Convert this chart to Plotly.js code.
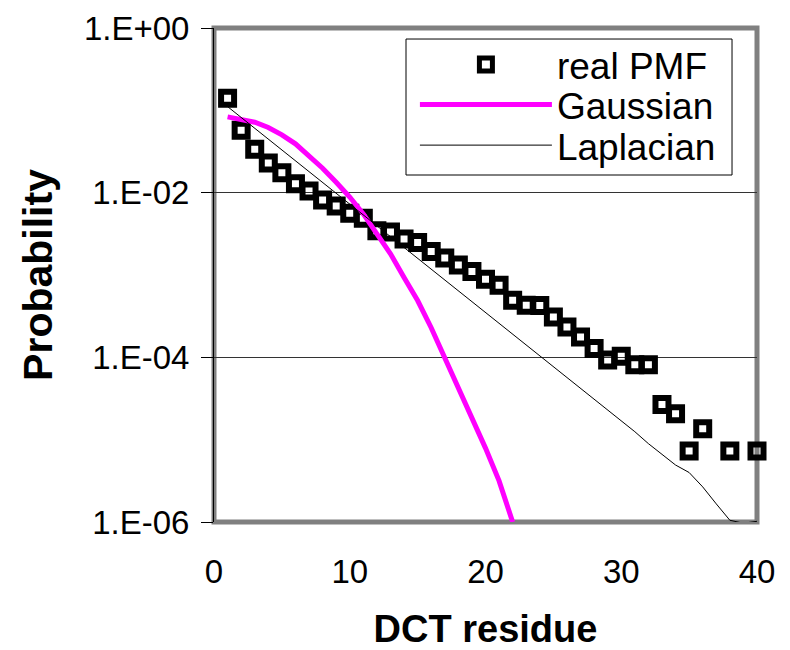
<!DOCTYPE html>
<html>
<head>
<meta charset="utf-8">
<script src="https://cdn.plot.ly/plotly-3.0.1.min.js"></script>
<style>html,body{margin:0;padding:0;background:#fff;}#chart{width:790px;height:650px;}</style>
</head>
<body>
<div id="chart"></div>
<script>
// DCT residue values
var pmfX = [1,2,3,4,5,6,7,8,9,10,11,12,13,14,15,16,17,18,19,20,21,22,23,24,25,26,27,28,29,30,31,32,33,34,35,36,38,40];
var pmfY = [0.140,0.0571,0.0337,0.0230,0.0174,0.0128,0.0105,0.00814,0.00689,0.00562,0.00489,0.00344,0.00334,0.00273,0.00248,0.00193,0.00161,0.00132,0.00110,0.00089,0.00075,0.000495,0.00043,0.000427,0.000308,0.000233,0.000177,0.000128,0.000093,0.000103,0.000081,0.000081,0.0000267,0.0000206,0.0000073,0.0000136,0.0000073,0.0000073];

var gaussX = [1,2,3,4,5,6,7,8,9,10,11,12,13,14,15,16,17,18,19,20,21,22];
var gaussY = [0.0832,0.0785,0.0718,0.0619,0.0504,0.0392,0.0284,0.0198,0.0134,0.00885,0.00552,0.00325,0.00181,0.000933,0.00049,0.000229,0.0001,0.0000447,0.000019,0.0000079,0.00000316,0.00000100];

var lapX = [1,2,3,4,5,6,7,8,9,10,11,12,13,14,15,16,17,18,19,20,21,22,23,24,25,26,27,28,29,30,31,32,33,34,35,36,37,38,39,40];
var lapY = [0.111,0.0820,0.0607,0.0448,0.0331,0.0244,0.0180,0.0133,0.00984,0.00727,0.00537,0.00397,0.00293,0.00216,0.00160,0.00118,0.000871,0.000644,0.000475,0.000352,0.000259,0.000191,0.000142,0.000104,0.000077,0.000057,0.000042,0.000031,0.000023,0.0000169,0.0000125,0.00000895,0.00000668,0.00000492,0.00000399,0.00000267,0.00000166,0.00000105,0.000000966,0.00000102];

var seriesNames = ['real PMF','Gaussian','Laplacian'];
var yTickVals = [1,0.01,0.0001,0.000001];
var yTickText = ['1.E+00','1.E-02','1.E-04','1.E-06'];
var xTickVals = [0,10,20,30,40];

var FONT = 'Liberation Sans, Arial, sans-serif';

var traces = [
  {x: pmfX, y: pmfY, name: seriesNames[0], type: 'scatter', mode: 'markers', cliponaxis: false, legend: 'legend',
   marker: {symbol: 'square-open', size: 13, color: '#000000', line: {color: '#000000', width: 6}}},
  {x: gaussX, y: gaussY, name: seriesNames[1], type: 'scatter', mode: 'lines', legend: 'legend2',
   line: {color: '#ff00ff', width: 5}},
  {x: lapX, y: lapY, name: seriesNames[2], type: 'scatter', mode: 'lines', legend: 'legend3',
   line: {color: '#000000', width: 1}}
];

function legendAt(yFrac) {
  return {
    x: 0.370, y: yFrac, xanchor: 'left', yanchor: 'middle',
    bgcolor: 'rgba(0,0,0,0)', borderwidth: 0,
    font: {family: FONT, size: 37, color: '#000000'},
    itemwidth: 132
  };
}

var layout = {
  width: 790, height: 650,
  margin: {l: 214, r: 33, t: 28, b: 128},
  paper_bgcolor: '#ffffff', plot_bgcolor: '#ffffff',
  font: {family: FONT, color: '#000000', size: 32},
  showlegend: true,
  legend: legendAt(0.925),
  legend2: legendAt(0.844),
  legend3: legendAt(0.762),
  xaxis: {
    range: [0, 40], tickvals: xTickVals, ticktext: xTickVals.map(String),
    showgrid: false, zeroline: false, showline: false, ticks: '',
    ticklabelstandoff: 27,
    tickfont: {family: FONT, size: 33},
    title: {text: 'DCT residue', font: {family: FONT, size: 38, weight: 'bold'}, standoff: 29}
  },
  yaxis: {
    type: 'log', range: [-6, 0], tickvals: yTickVals, ticktext: yTickText,
    showgrid: true, gridcolor: '#333333', gridwidth: 1,
    zeroline: false, showline: true, linecolor: '#000000', linewidth: 1,
    ticks: 'outside', ticklen: 12, tickcolor: '#000000', tickwidth: 1,
    ticklabelstandoff: 5,
    tickfont: {family: FONT, size: 33},
    title: {text: 'Probability', font: {family: FONT, size: 41, weight: 'bold'}, standoff: 18}
  },
  shapes: [
    {type: 'rect', xref: 'paper', yref: 'paper', x0: 0, x1: 1, y0: 0, y1: 1,
     line: {color: '#808080', width: 5}, layer: 'below'},
    {type: 'rect', xref: 'paper', yref: 'paper', x0: 0.3536, x1: 0.954, y0: 0.7024, y1: 0.9777,
     line: {color: '#000000', width: 1}, fillcolor: '#ffffff', layer: 'above'}
  ]
};

Plotly.newPlot('chart', traces, layout, {staticPlot: true, displayModeBar: false});
</script>
</body>
</html>
